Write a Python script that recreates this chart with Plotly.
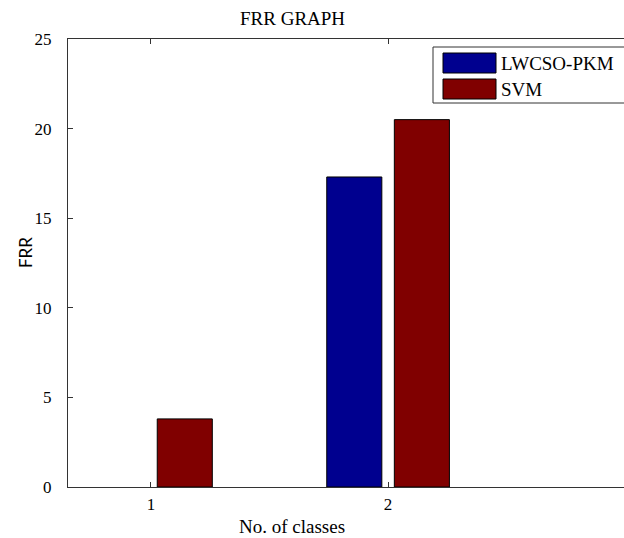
import plotly.graph_objects as go

classes = [1, 2]
series_names = ["LWCSO-PKM", "SVM"]
lwcso_pkm = [0.0, 17.3]
svm = [3.8, 20.5]
colors = ["#00008F", "#800000"]
y_ticks = [0, 5, 10, 15, 20, 25]

W, H = 624, 538
L, T, B, R = 68, 39, 51, 0
pw, ph = W - L - R, H - T - B

def px(x):
    return (x - L) / pw

def py(y):
    return (H - B - y) / ph

serif = "Liberation Serif, Times New Roman, serif"

fig = go.Figure()
for name, vals, col in zip(series_names, [lwcso_pkm, svm], colors):
    fig.add_trace(go.Bar(x=classes, y=vals, name=name,
                         marker=dict(color=col, line=dict(color="#000000", width=[1 if v > 0 else 0 for v in vals])),
                         showlegend=False))

fig.update_layout(
    width=W, height=H,
    margin=dict(l=L, r=R, t=T, b=B),
    barmode="group", bargap=0.43, bargroupgap=0.185,
    plot_bgcolor="white", paper_bgcolor="white",
    font=dict(family=serif, size=16, color="#000000"),
)
fig.update_xaxes(range=[0.65, 2.995], tickvals=classes, ticktext=[str(c) for c in classes],
                 showline=True, linecolor="#333333", linewidth=1, mirror="ticks",
                 ticks="inside", ticklen=5, tickcolor="#333333", showgrid=False, zeroline=False,
                 tickfont=dict(family=serif, size=17), ticklabelstandoff=2)
fig.update_yaxes(range=[0, 25], tickvals=y_ticks, showline=True, linecolor="#333333", linewidth=1,
                 mirror=False, ticks="inside", ticklen=5, tickcolor="#333333", showgrid=False,
                 zeroline=False, tickfont=dict(family=serif, size=17), ticklabelstandoff=12)

# title and axis labels
fig.add_annotation(text="FRR GRAPH", xref="paper", yref="paper", x=px(292), y=py(19), showarrow=False,
                   font=dict(family=serif, size=19), xanchor="center", yanchor="middle")
fig.add_annotation(text="No. of classes", xref="paper", yref="paper", x=px(292), y=py(526), showarrow=False,
                   font=dict(family=serif, size=19), xanchor="center", yanchor="middle")
fig.add_annotation(text="FRR", xref="paper", yref="paper", x=px(25), y=py(253), showarrow=False, textangle=-90,
                   font=dict(family="Lato, Noto Sans, sans-serif", size=17), xanchor="center", yanchor="middle")

# legend box
fig.add_shape(type="rect", xref="paper", yref="paper", x0=px(433), x1=px(640), y0=py(103), y1=py(47),
              line=dict(color="#333333", width=1), fillcolor="white", layer="above")
for i, (name, col) in enumerate(zip(series_names, colors)):
    top = 53 + i * 26
    fig.add_shape(type="rect", xref="paper", yref="paper", x0=px(443), x1=px(496), y0=py(top + 20), y1=py(top),
                  line=dict(color="#000000", width=1), fillcolor=col, layer="above")
    fig.add_annotation(text=name, xref="paper", yref="paper", x=px(499), y=py(top + 10), showarrow=False,
                       font=dict(family=serif, size=19), xanchor="left", yanchor="middle")

fig.write_html("out.html", config={"displayModeBar": False},
               post_script="document.body.style.margin='0';document.body.style.overflow='hidden';")
